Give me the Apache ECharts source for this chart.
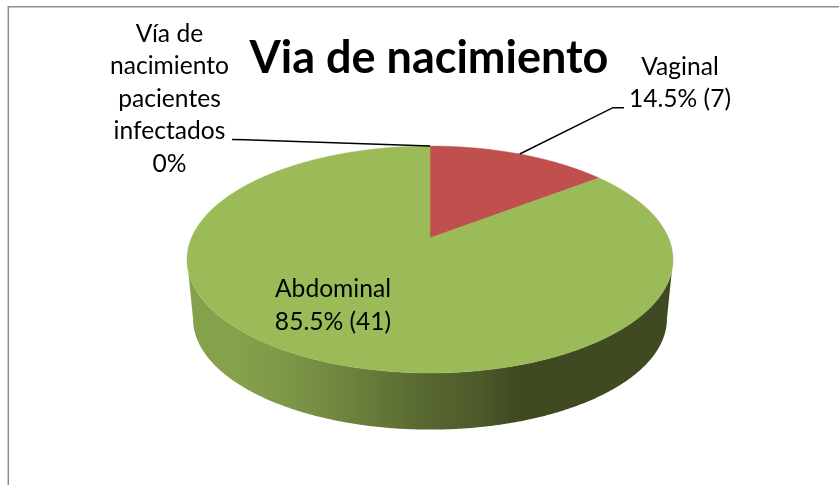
<!DOCTYPE html>
<html>
<head>
<meta charset="utf-8">
<style>html,body{margin:0;padding:0;background:#fff}#c{width:839px;height:485px}</style>
<script src="https://cdn.jsdelivr.net/npm/echarts@6/dist/echarts.min.js"></script>
</head>
<body>
<div id="c"></div>
<script>
// data
const chartTitle = 'Via de nacimiento';
const sliceNames = ['Vaginal', 'Abdominal', 'Vía de nacimiento pacientes infectados'];
const slicePercents = [14.5, 85.5, 0];
const sliceLabels = ['Vaginal\n14.5% (7)', 'Abdominal\n85.5% (41)', 'Vía de\nnacimiento\npacientes\ninfectados\n0%'];

// styles and layout
const sliceColors = ['#C0504D', '#9BBB59', '#4BACC6'];
const labelCenters = [[680, 83], [333, 305.5], [169.5, 99]];
const leaderPaths = [[[613, 107.7], [624, 107.7]], null, [[245, 139.8], [232, 139.5]]];
const pie = {cx: 430, cy: 238, farY: 92, nearY: 135, halfW: 238.6, depth: 60, bottomScale: 0.975};

// perspective projection of a tilted disc: angle is clockwise from the far point
const k = (pie.nearY - pie.farY) / (pie.nearY + pie.farY);
const A = pie.farY * (1 + k);
function project(deg, dz) {
  const a = deg * Math.PI / 180, u = Math.sin(a), v = Math.cos(a), d = 1 + k * v;
  const s = dz ? pie.bottomScale : 1;
  return [pie.cx + s * pie.halfW * u / d, pie.cy + (dz ? pie.depth : 0) - s * A * v / d];
}
const frontStart = Math.acos(-k) * 180 / Math.PI, frontEnd = 360 - frontStart;
const total = slicePercents.reduce((a, b) => a + b, 0);
const starts = [];
slicePercents.reduce((acc, v, i) => (starts[i] = acc, acc + v), 0);

function range(a, b, dz) {
  const pts = [], n = Math.max(2, Math.ceil(Math.abs(b - a) * 2));
  for (let i = 0; i <= n; i++) pts.push(project(a + (b - a) * i / n, dz));
  return pts;
}

const sideGradient = new echarts.graphic.LinearGradient(187, 0, 673, 0, [
  {offset: 0, color: '#86A14C'}, {offset: 0.1, color: '#86A14C'}, {offset: 0.2, color: '#7E9848'},
  {offset: 0.3, color: '#728841'}, {offset: 0.4, color: '#647738'}, {offset: 0.5, color: '#566630'},
  {offset: 0.6, color: '#4D5A2A'}, {offset: 0.68, color: '#3F4A22'}, {offset: 1, color: '#3F4A22'}
], true);

function renderItem(params, api) {
  const i = params.dataIndex;
  const a0 = starts[i] / total * 360, a1 = (starts[i] + slicePercents[i]) / total * 360;
  const children = [];
  if (a1 > a0) {
    const s0 = Math.max(a0, frontStart), s1 = Math.min(a1, frontEnd);
    if (s1 > s0) {
      children.push({type: 'polygon', silent: true,
        shape: {points: range(s0, s1, false).concat(range(s1, s0, true))},
        style: {fill: sideGradient, stroke: null}});
    }
    children.push({type: 'polygon', silent: true,
      shape: {points: [[pie.cx, pie.cy]].concat(range(a0, a1, false))},
      style: {fill: sliceColors[i], stroke: sliceColors[i], lineWidth: 0.4}});
  }
  if (leaderPaths[i]) {
    children.push({type: 'polyline', silent: true, z2: 5,
      shape: {points: [project((a0 + a1) / 2, false)].concat(leaderPaths[i])},
      style: {stroke: '#000', lineWidth: 1.5, fill: null}});
  }
  children.push({type: 'text', silent: true, z2: 10,
    style: {x: labelCenters[i][0], y: labelCenters[i][1], text: sliceLabels[i], align: 'center',
      verticalAlign: 'middle', fill: '#000', font: '24.6px Lato', lineHeight: 32.5}});
  return {type: 'group', children};
}

const chart = echarts.init(document.getElementById('c'), null, {renderer: 'canvas'});
chart.setOption({
  animation: false,
  backgroundColor: '#fff',
  title: {text: chartTitle, left: 429, top: 31, textAlign: 'center',
    textStyle: {fontFamily: 'Lato', fontWeight: 'bold', fontSize: 45, color: '#000'},
    padding: [5, 9, 5, 0]},
  graphic: [{type: 'polyline', silent: true,
    shape: {points: [[8.3, 485], [8.3, 6.7], [839, 6.7]]},
    style: {stroke: '#8E8E8E', lineWidth: 1.5, fill: null}}],
  series: [{type: 'custom', coordinateSystem: 'none', silent: true, renderItem,
    data: sliceNames.map((n, i) => ({name: n, value: slicePercents[i]}))}]
});
</script>
</body>
</html>
